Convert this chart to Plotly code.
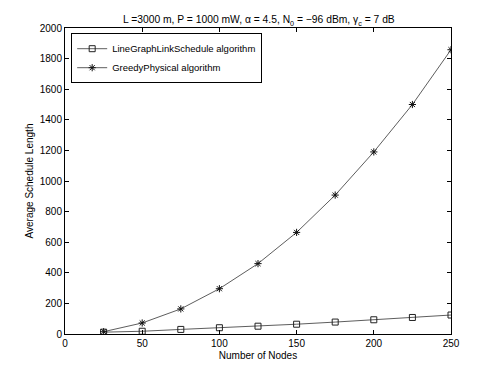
import plotly.graph_objects as go

nodes = [25, 50, 75, 100, 125, 150, 175, 200, 225, 250]
line_graph = [12, 18, 30, 41, 51, 64, 78, 93, 108, 124]
greedy = [15, 72, 164, 296, 460, 664, 908, 1190, 1500, 1858]

x_ticks = [0, 50, 100, 150, 200, 250]
y_ticks = [0, 200, 400, 600, 800, 1000, 1200, 1400, 1600, 1800, 2000]

fig = go.Figure()
fig.add_trace(go.Scatter(
    x=nodes, y=line_graph, mode="lines+markers",
    name="LineGraphLinkSchedule algorithm",
    line=dict(color="#333333", width=0.8),
    marker=dict(symbol="square-open", size=6, color="#222222", line=dict(width=1)),
))
fig.add_trace(go.Scatter(
    x=nodes, y=greedy, mode="lines+markers",
    name="GreedyPhysical algorithm",
    line=dict(color="#333333", width=0.8),
    marker=dict(symbol="asterisk-open", size=6, color="#111111", line=dict(width=1)),
))

axis_style = dict(
    showgrid=False, zeroline=False, showline=True, linecolor="black", linewidth=1,
    mirror="ticks", ticks="inside", ticklen=4, tickcolor="black",
    tickfont=dict(size=10, color="black"),
)

# the page body keeps its 8px margin, so the figure is a bit smaller than the window
fig.update_layout(
    width=490, height=367,
    margin=dict(l=57, r=47, t=20, b=41),
    paper_bgcolor="white", plot_bgcolor="white",
    font=dict(family="Liberation Sans, Arial, sans-serif", color="black", size=10),
    title=dict(
        text="L =3000 m, P = 1000 mW, \u03b1 = 4.5, N<sub>0</sub> = \u221296 dBm, \u03b3<sub>c</sub> = 7 dB",
        x=0.512, xanchor="center", y=0.968, yanchor="middle",
        font=dict(size=10.3),
    ),
    xaxis=dict(axis_style, range=[0, 250], tickvals=x_ticks,
               title=dict(text="Number of Nodes", font=dict(size=10), standoff=3)),
    yaxis=dict(axis_style, range=[0, 2000], tickvals=y_ticks,
               title=dict(text="Average Schedule Length", font=dict(size=10), standoff=4)),
    legend=dict(
        x=0.016, y=0.983, xanchor="left", yanchor="top",
        bgcolor="white", bordercolor="black", borderwidth=1,
        font=dict(size=9.5), tracegroupgap=0, itemwidth=30,
    ),
    showlegend=True,
)

fig.write_html("out.html")
